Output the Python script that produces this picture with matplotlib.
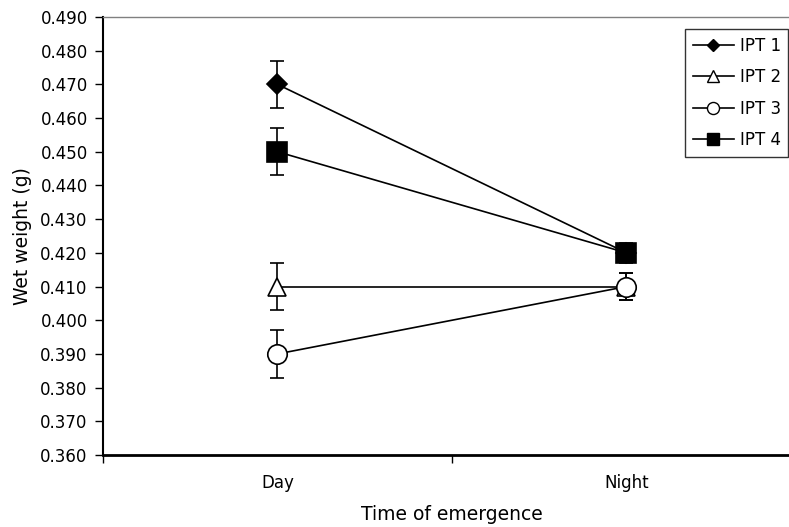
import matplotlib.pyplot as plt
import numpy as np

# Wet weight by time of emergence, mean +/- error
categories = ['Day', 'Night']
ipt1 = [0.470, 0.420]
ipt2 = [0.410, 0.410]
ipt3 = [0.390, 0.410]
ipt4 = [0.450, 0.420]
ipt1_err = [0.007, 0.002]
ipt2_err = [0.007, 0.004]
ipt3_err = [0.007, 0.004]
ipt4_err = [0.007, 0.003]
series_names = ['IPT 1', 'IPT 2', 'IPT 3', 'IPT 4']

plt.rcParams['font.family'] = 'DejaVu Sans'

fig = plt.figure(figsize=(7.89, 5.27), dpi=100)
ax = fig.add_axes([103 / 789, 72 / 527, 698 / 789, 438 / 527])

x = np.arange(len(categories)) + 0.5
styles = [
    dict(marker='D', markersize=10, markerfacecolor='black'),
    dict(marker='^', markersize=13, markerfacecolor='white'),
    dict(marker='o', markersize=14, markerfacecolor='white'),
    dict(marker='s', markersize=15, markerfacecolor='black'),
]
values = [ipt1, ipt2, ipt3, ipt4]
errors = [ipt1_err, ipt2_err, ipt3_err, ipt4_err]

handles = []
for vals, errs, st, name in zip(values, errors, styles, series_names):
    ax.errorbar(x, vals, yerr=errs, fmt='none', ecolor='black',
                elinewidth=1.2, capsize=5, capthick=1.2, zorder=2)
    ax.plot(x, vals, color='black', linewidth=1.2, markeredgecolor='black',
            markeredgewidth=1.2, zorder=3, **st)
    # smaller markers for the legend key
    h, = ax.plot([], [], color='black', linewidth=1.2, marker=st['marker'],
                 markersize=st['markersize'] * 0.62,
                 markerfacecolor=st['markerfacecolor'],
                 markeredgecolor='black', label=name)
    handles.append(h)

ax.set_xlim(0, 2)
ax.set_ylim(0.360, 0.490)
yt = np.arange(0.360, 0.4901, 0.010)
ax.set_yticks(yt)
ax.set_yticklabels(['%.3f' % v for v in yt])
ax.set_xticks([0, 1, 2])
ax.set_xticklabels([])
ax.set_xticks(x, minor=True)
ax.set_xticklabels(categories, minor=True)
ax.tick_params(axis='x', which='minor', length=0, pad=14, labelsize=12)
ax.tick_params(axis='x', which='major', direction='out', length=6, width=1)
ax.tick_params(axis='y', direction='out', length=6, width=1, labelsize=12, pad=5)

for side in ['left', 'bottom']:
    ax.spines[side].set_color('black')
ax.spines['left'].set_linewidth(1.5)
ax.spines['bottom'].set_linewidth(2)
ax.spines['top'].set_color('#808080')
ax.spines['top'].set_linewidth(1)
ax.spines['right'].set_color('#808080')

ax.set_ylabel('Wet weight (g)', fontsize=13.5, labelpad=6)
ax.set_xlabel('Time of emergence', fontsize=13.5, labelpad=9)

leg = ax.legend(handles=handles, loc='upper left',
                bbox_to_anchor=(685 / 789, 498 / 527),
                bbox_transform=fig.transFigure,
                frameon=True, fancybox=False, edgecolor='black',
                fontsize=12, handlelength=2.45, handletextpad=0.36,
                labelspacing=0.81, borderpad=0.46, borderaxespad=0)
leg.get_frame().set_linewidth(1)

fig.savefig('out.png', dpi=100)
